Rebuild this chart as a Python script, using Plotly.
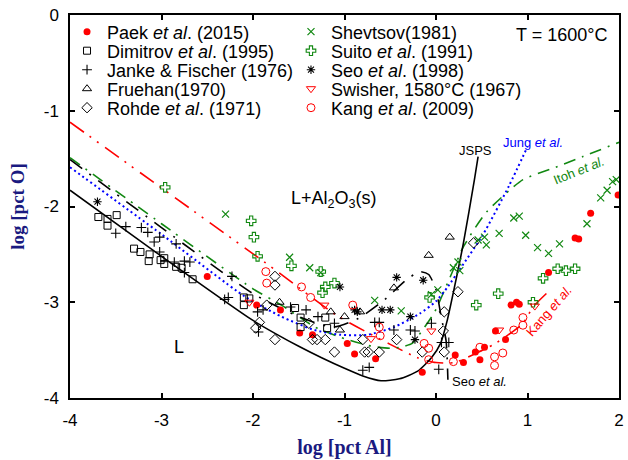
import plotly.graph_objects as go

# ---------------- data ----------------
paek_x = [-2.50, -1.96, -1.70, -1.49, -1.35, -0.97, -0.89, -0.66, -0.15, 0.21, 0.30, 0.43, 0.48, 0.53,
          0.65, 0.76, 0.82, 0.88, 0.91, 1.23, 1.52, 1.56, 1.69, 1.99]
paek_y = [-2.73, -3.03, -3.08, -3.32, -3.34, -3.43, -3.54, -3.59, -3.73, -3.55, -3.63, -3.52, -3.60, -3.47,
          -3.30, -3.39, -3.03, -3.00, -3.02, -2.69, -2.33, -2.34, -2.07, -1.88]

dimitrov_x = [-3.69, -3.59, -3.59, -3.49, -3.30, -3.23, -3.13, -3.14, -3.01, -2.97, -2.97, -2.84, -2.78,
              -2.66, -2.10, -2.04, -2.10, -1.54, -1.48, -1.48, -1.21, -1.19]
dimitrov_y = [-2.11, -2.13, -2.20, -2.09, -2.44, -2.475, -2.50, -2.57, -2.56, -2.54, -2.60, -2.63, -2.64,
              -2.76, -2.95, -2.96, -3.03, -3.06, -3.16, -3.26, -3.16, -3.27]

janke_x = [-3.50, -3.39, -3.22, -3.15, -3.02, -3.08, -3.02, -2.86, -2.75, -2.69, -2.75, -2.84, -2.23, -2.31,
           -2.27, -1.95, -1.89, -1.94, -1.59, -1.42, -1.29, -1.11, -0.67, -0.62, -0.46, -0.28, -0.23,
           -0.80, -0.73, -0.05, 0.06, 0.14, 0.03]
janke_y = [-2.28, -2.21, -2.22, -2.27, -2.32, -2.37, -2.475, -2.58, -2.57, -2.58, -2.69, -2.39, -2.73, -2.97,
           -2.95, -3.10, -3.08, -3.31, -3.05, -3.08, -3.15, -3.22, -3.21, -3.21, -3.29, -3.29, -3.30,
           -3.71, -3.68, -3.22, -3.42, -3.42, -3.70]

fruehan_x = [-1.71, -1.15, -1.00, -0.83, -1.05, -0.46, -0.08, 0.15]
fruehan_y = [-3.00, -3.10, -3.15, -3.10, -3.29, -2.85, -2.51, -2.32]

rohde_x = [-1.97, -1.93, -1.85, -1.76, -1.76, -1.76, -1.39, -1.35, -1.30, -1.21, -1.11, -0.80, -0.78, -0.74,
           -0.62, -0.43, -0.15, 0.08, 0.09, 0.09, 0.24, 0.41]
rohde_y = [-3.27, -3.21, -3.03, -2.73, -2.82, -3.39, -3.22, -3.39, -3.39, -3.39, -3.52, -3.39, -3.52, -3.52,
           -3.52, -3.39, -3.52, -3.30, -3.52, -3.10, -2.89, -2.38]

shevtsov_x = [-2.30, -1.60, -1.38, -1.26, -0.67, -0.38, -0.05, 0.02, 0.19, 0.24, 0.26, 0.46, 0.53, 0.55,
              0.69, 0.85, 0.91, 0.98, 1.11, 1.23, 1.35, 1.65, 1.80, 1.87, 1.93, 1.97]
shevtsov_y = [-2.08, -2.53, -2.64, -2.69, -2.98, -3.09, -2.92, -2.87, -2.64, -2.58, -2.67, -2.35, -2.32, -2.40,
              -2.28, -2.12, -2.10, -2.30, -2.43, -2.49, -2.39, -2.18, -1.91, -1.83, -1.74, -1.72]

suito_x = [-2.96, -2.02, -1.99, -1.95, -1.58, -1.26, -1.21, -1.24, -1.11, -0.07, 0.44, 0.68, 1.06, 1.17,
           1.33, 1.42, 1.52]
suito_y = [-1.80, -2.15, -2.32, -2.52, -2.62, -2.68, -2.84, -2.90, -2.80, -2.95, -3.03, -2.91, -3.00, -2.75,
           -2.65, -2.67, -2.65]

seo_x = [-3.70, -1.05, -0.89, -0.86, -0.59, -0.50, -0.43, -0.28, -0.14, -0.23]
seo_y = [-1.95, -2.84, -3.08, -3.10, -3.08, -3.08, -2.74, -3.15, -2.77, -3.39]

swisher_x = [-2.04, -1.22, -0.71, -0.05, 0.69, 1.08]
swisher_y = [-3.00, -3.03, -3.38, -3.30, -3.29, -3.04]

kang_x = [-1.86, -1.85, -1.47, -1.37, -0.91, -0.62, -0.61, -0.13, -0.08, -0.08, 0.19, 0.48, 0.64, 0.64,
          0.73, 0.85, 0.95, 0.95]
kang_y = [-2.68, -2.80, -2.84, -2.95, -3.03, -3.26, -3.35, -3.43, -3.48, -3.60, -3.62, -3.47, -3.57, -3.66,
          -3.53, -3.29, -3.16, -3.24]

# model / boundary curves
jsps_x = [-4, -3, -2, -1.75, -1.5, -1.25, -1.0, -0.8, -0.6, -0.4, -0.2, -0.05, 0.05, 0.12, 0.2, 0.3, 0.42, 0.46]
jsps_y = [-1.83, -2.52, -3.19, -3.33, -3.46, -3.58, -3.69, -3.77, -3.82, -3.80, -3.72, -3.58, -3.43, -3.20,
          -2.85, -2.38, -1.72, -1.48]

seo_model_x = [-4, -3, -2, -1.5, -1.13, -0.85, -0.57, -0.34, -0.18, -0.08, 0.0, 0.06, 0.11, 0.13]
seo_model_y = [-1.51, -2.22, -2.91, -3.15, -3.26, -3.17, -2.98, -2.78, -2.68, -2.71, -2.87, -3.17, -3.40, -3.81]

itoh_x = [-4, -3, -2, -1.69, -1.32, -1.0, -0.7, -0.5, -0.39, -0.26, -0.2, -0.02, 0.14, 0.3, 0.55, 0.95,
          1.28, 1.6, 2.0]
itoh_y = [-1.49, -2.18, -2.86, -3.03, -3.26, -3.38, -3.46, -3.48, -3.47, -3.43, -3.36, -3.11, -2.77, -2.42,
          -2.06, -1.72, -1.60, -1.48, -1.33]

jung_x = [-4, -3, -2.09, -1.69, -1.33, -1.04, -0.75, -0.46, -0.18, 0.0, 0.12, 0.3, 0.51, 0.8, 1.0]
jung_y = [-1.59, -2.29, -2.94, -3.15, -3.29, -3.34, -3.34, -3.26, -3.12, -2.99, -2.85, -2.6, -2.3, -1.78, -1.375]

kang_model_x = [-4, -1.76, -1.08, -0.5, -0.2, 0.0, 0.2, 0.4, 0.65, 0.95, 1.06, 1.25]
kang_model_y = [-1.12, -2.66, -3.14, -3.44, -3.58, -3.63, -3.63, -3.55, -3.43, -3.22, -3.05, -2.87]

x_ticks = [-4, -3, -2, -1, 0, 1, 2]
x_tick_text = ["-4", "-3", "-2", "-1", "0", "1", "2"]
y_ticks = [-4, -3, -2, -1, 0]
y_tick_text = ["-4", "-3", "-2", "-1", "0"]

# ---------------- styling ----------------
RED = "#ff0000"
GREEN = "#118811"
BLUE = "#0000ff"
BLACK = "#000000"
FONT = "Liberation Sans, Arial, sans-serif"

series = [
    ("Paek <i>et al</i>. (2015)", paek_x, paek_y, "circle", RED, 7, 0),
    ("Dimitrov <i>et al</i>. (1995)", dimitrov_x, dimitrov_y, "square-open", BLACK, 7, 1),
    ("Janke &amp; Fischer (1976)", janke_x, janke_y, "cross-thin-open", BLACK, 7, 1.1),
    ("Fruehan(1970)", fruehan_x, fruehan_y, "triangle-up-open", BLACK, 8, 1),
    ("Rohde <i>et al</i>. (1971)", rohde_x, rohde_y, "diamond-open", BLACK, 8, 1),
    ("Shevtsov(1981)", shevtsov_x, shevtsov_y, "x-thin-open", GREEN, 7, 1.2),
    ("Suito <i>et al</i>. (1991)", suito_x, suito_y, "cross-open", GREEN, 8, 1.1),
    ("Seo <i>et al</i>. (1998)", seo_x, seo_y, "asterisk-open", BLACK, 7, 1.1),
    ("Swisher, 1580°C (1967)", swisher_x, swisher_y, "triangle-down-open", RED, 8, 1),
    ("Kang <i>et al</i>. (2009)", kang_x, kang_y, "circle-open", RED, 8, 1),
]

L_PLOT, R_PLOT, T_PLOT, B_PLOT = 70, 624, 15, 398
PW, PH = R_PLOT - L_PLOT, B_PLOT - T_PLOT
rows_px = [32, 51, 70, 89, 108]
cols_px = [67, 293]  # left edge of each legend column (marker centre ~ +21 px)

fig = go.Figure()

curves = [
    ("Kang et al. model", kang_model_x, kang_model_y, RED, "17px,7px,2px,7px,2px,8px", 1.6),
    ("Itoh et al.", itoh_x, itoh_y, GREEN, "12px,7px,2px,7px", 1.6),
    ("Jung et al.", jung_x, jung_y, BLUE, "2px,3px", 2.0),
    ("Seo et al. model", seo_model_x, seo_model_y, BLACK, "15px,9px,2px,9px", 1.6),
    ("JSPS", jsps_x, jsps_y, BLACK, "solid", 1.6),
]
for name, xs, ys, col, dash, w in curves:
    fig.add_trace(go.Scatter(x=xs, y=ys, mode="lines", name=name, showlegend=False,
                             line=dict(color=col, dash=dash, width=w, shape="spline", smoothing=0.6)))

legend_layouts = {}
for i, (name, xs, ys, sym, col, size, lw) in enumerate(series):
    key = "legend" if i == 0 else f"legend{i + 1}"
    c, r = divmod(i, 5)
    fig.add_trace(go.Scatter(x=xs, y=ys, mode="markers", name=name, showlegend=True, legend=key,
                             marker=dict(symbol=sym, size=size, color=col, line=dict(color=col, width=lw))))
    legend_layouts[key] = dict(
        x=(cols_px[c] - L_PLOT) / PW, y=1 - (rows_px[r] - T_PLOT) / PH,
        xanchor="left", yanchor="middle", bgcolor="rgba(0,0,0,0)", borderwidth=0,
        font=dict(size=18, color=BLACK, family=FONT), itemwidth=30,
    )

annotations = [
    dict(x=1.37, y=-0.21, text="T = 1600°C", font=dict(size=18, color=BLACK)),
    dict(x=-1.12, y=-1.93, text="L+Al<sub>2</sub>O<sub>3</sub>(s)", font=dict(size=18, color=BLACK)),
    dict(x=-2.81, y=-3.47, text="L", font=dict(size=18, color=BLACK)),
    dict(x=0.43, y=-1.41, text="JSPS", font=dict(size=13, color=BLACK)),
    dict(x=1.06, y=-1.33, text="Jung <i>et al.</i>", font=dict(size=13, color=BLUE)),
    dict(x=1.56, y=-1.62, text="Itoh <i>et al.</i>", font=dict(size=13, color=GREEN), textangle=-22),
    dict(x=1.24, y=-3.09, text="Kang <i>et al.</i>", font=dict(size=13, color=RED), textangle=-49),
    dict(x=0.15, y=-3.83, text="Seo <i>et al.</i>", font=dict(size=13, color=BLACK), xanchor="left"),
]
for a in annotations:
    a.update(xref="x", yref="y", showarrow=False)

axis_common = dict(showline=True, linecolor=BLACK, linewidth=1.5, mirror="ticks", ticks="inside",
                   ticklen=5, tickwidth=1.5, tickcolor=BLACK, showgrid=False, zeroline=False,
                   tickfont=dict(size=17, color=BLACK, family=FONT))

fig.update_layout(
    width=628, height=460,
    margin=dict(l=L_PLOT, r=628 - R_PLOT, t=T_PLOT, b=460 - B_PLOT),
    paper_bgcolor="white", plot_bgcolor="white",
    font=dict(family=FONT, color=BLACK),
    xaxis=dict(range=[-4, 2], tickvals=x_ticks, ticktext=x_tick_text, ticklabelstandoff=6,
               title=dict(text="<b>log [pct Al]</b>", standoff=11,
                          font=dict(family="Liberation Serif, Times New Roman, serif", size=20,
                                    color="#1a1a80")),
               **axis_common),
    yaxis=dict(range=[-4, 0], tickvals=y_ticks, ticktext=y_tick_text, ticklabelstandoff=6,
               title=dict(text="<b>log [pct O]</b>", standoff=14,
                          font=dict(family="Liberation Serif, Times New Roman, serif", size=19,
                                    color="#1a1a80")),
               **axis_common),
    annotations=annotations,
    **legend_layouts,
)

fig.write_html("out.html", config={"displayModeBar": False},
               post_script="document.body.style.margin='0';document.body.style.overflow='hidden';")
